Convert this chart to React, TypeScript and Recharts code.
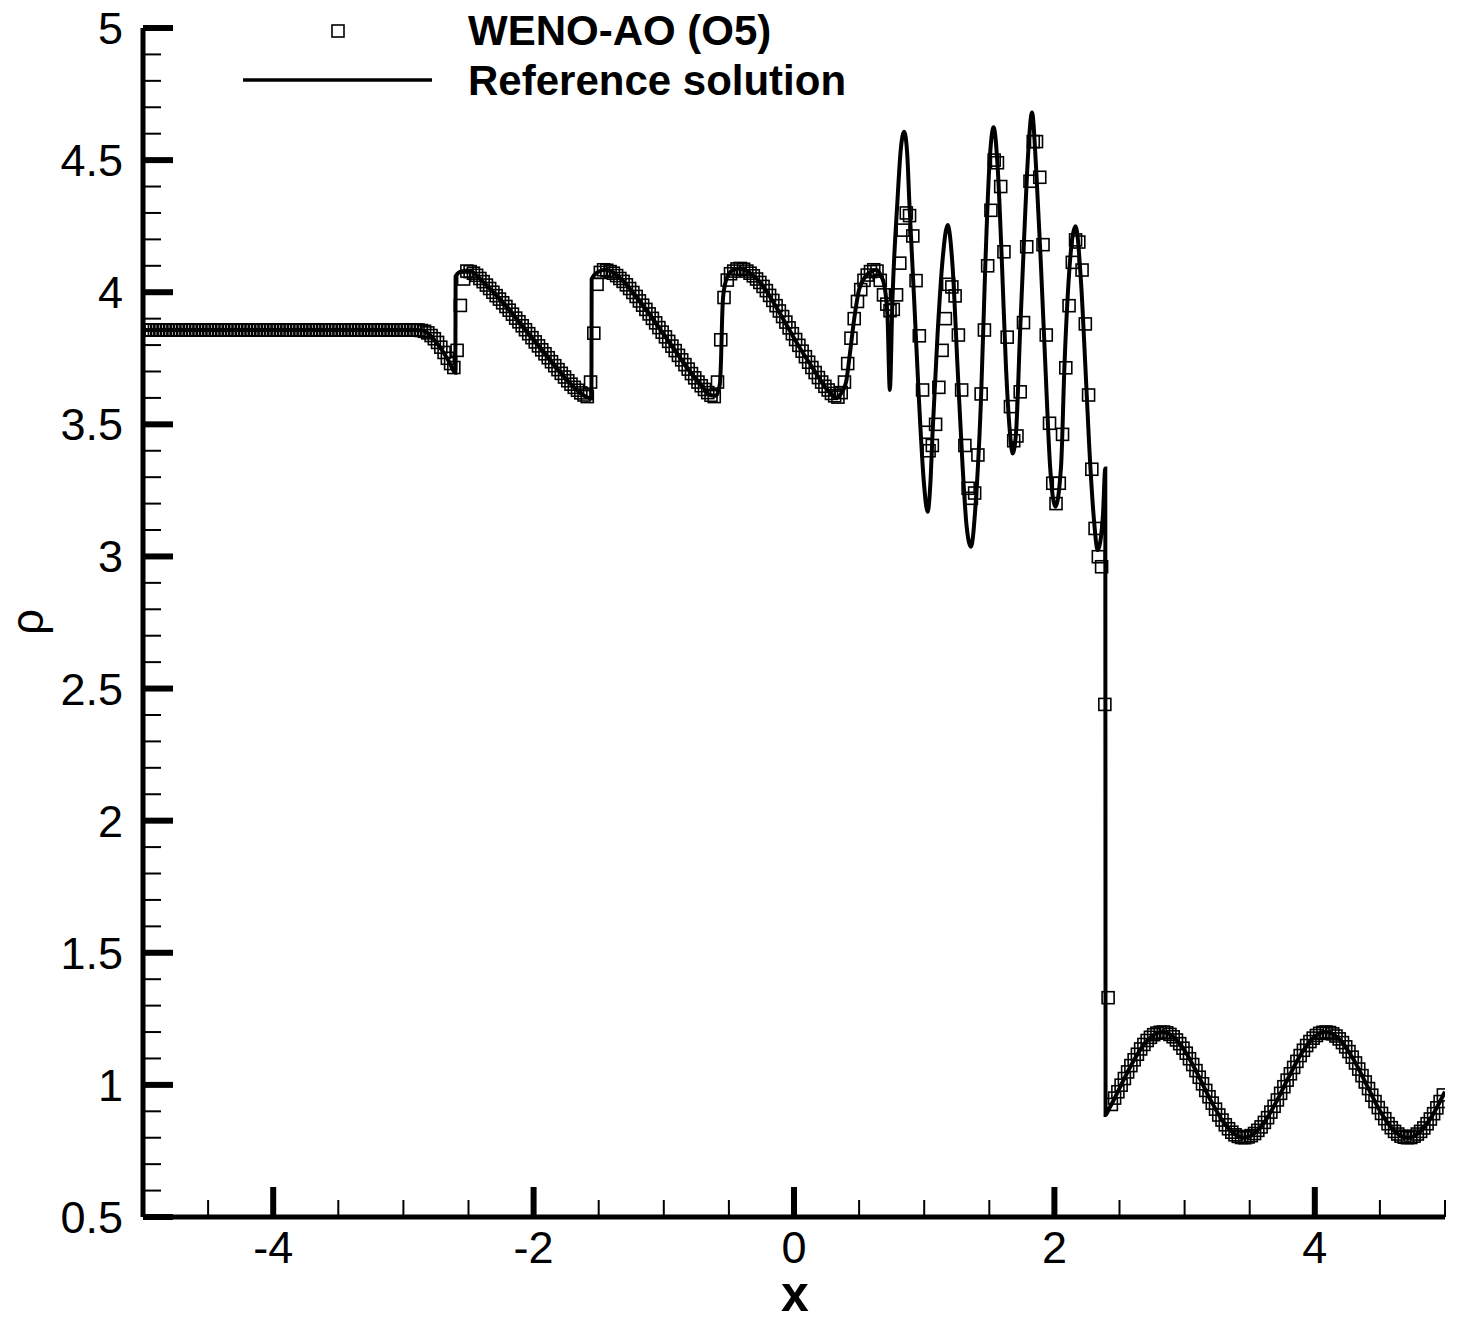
import React from "react";
import { ComposedChart, Line, Scatter, XAxis, YAxis } from "recharts";

// WENO-AO (O5) cell averages, 400 cells on [-5, 5]
const wenoRho = [
  3.857, 3.857, 3.857, 3.857, 3.857, 3.857, 3.857, 3.857, 3.857, 3.857,
  3.857, 3.857, 3.857, 3.857, 3.857, 3.857, 3.857, 3.857, 3.857, 3.857,
  3.857, 3.857, 3.857, 3.857, 3.857, 3.857, 3.857, 3.857, 3.857, 3.857,
  3.857, 3.857, 3.857, 3.857, 3.857, 3.857, 3.857, 3.857, 3.857, 3.857,
  3.857, 3.857, 3.857, 3.857, 3.857, 3.857, 3.857, 3.857, 3.857, 3.857,
  3.857, 3.857, 3.857, 3.857, 3.857, 3.857, 3.857, 3.857, 3.857, 3.857,
  3.857, 3.857, 3.857, 3.857, 3.857, 3.857, 3.857, 3.857, 3.857, 3.857,
  3.857, 3.857, 3.857, 3.857, 3.857, 3.857, 3.857, 3.857, 3.857, 3.857,
  3.857, 3.857, 3.857, 3.857, 3.857, 3.855, 3.852, 3.846, 3.836, 3.824,
  3.81, 3.792, 3.772, 3.75, 3.73, 3.715, 3.78, 3.95, 4.05, 4.08,
  4.078, 4.072, 4.064, 4.052, 4.04, 4.027, 4.014, 4.0, 3.987, 3.974,
  3.96, 3.946, 3.932, 3.917, 3.902, 3.888, 3.873, 3.858, 3.843, 3.828,
  3.812, 3.797, 3.782, 3.767, 3.752, 3.737, 3.722, 3.707, 3.693, 3.679,
  3.665, 3.652, 3.64, 3.629, 3.619, 3.611, 3.605, 3.66, 3.845, 4.03,
  4.075, 4.085, 4.083, 4.078, 4.072, 4.063, 4.052, 4.041, 4.028, 4.014,
  3.999, 3.984, 3.967, 3.951, 3.935, 3.918, 3.901, 3.884, 3.866, 3.849,
  3.831, 3.814, 3.796, 3.779, 3.761, 3.744, 3.726, 3.709, 3.692, 3.676,
  3.66, 3.646, 3.632, 3.62, 3.61, 3.605, 3.66, 3.82, 3.98, 4.046,
  4.07, 4.08, 4.088, 4.09, 4.087, 4.08, 4.072, 4.062, 4.05, 4.037,
  4.022, 4.006, 3.988, 3.969, 3.949, 3.929, 3.908, 3.887, 3.865, 3.843,
  3.821, 3.799, 3.777, 3.756, 3.735, 3.715, 3.696, 3.677, 3.66, 3.644,
  3.63, 3.617, 3.608, 3.603, 3.62, 3.66, 3.73, 3.826, 3.9, 3.965,
  4.01, 4.045, 4.065, 4.078, 4.085, 4.08, 4.045, 3.99, 3.955, 3.93,
  3.935, 3.99, 4.11, 4.235, 4.3, 4.29, 4.213, 4.044, 3.835, 3.63,
  3.47, 3.4, 3.42, 3.5, 3.64, 3.78, 3.9, 4.03, 4.02, 3.986,
  3.838, 3.63, 3.42, 3.258, 3.22, 3.24, 3.384, 3.615, 3.857, 4.1,
  4.31, 4.5, 4.49, 4.4, 4.153, 3.83, 3.567, 3.438, 3.456, 3.623,
  3.885, 4.172, 4.42, 4.57, 4.57, 4.435, 4.18, 3.838, 3.504, 3.277,
  3.2, 3.277, 3.462, 3.714, 3.949, 4.113, 4.198, 4.19, 4.084, 3.88,
  3.611, 3.33, 3.106, 2.999, 2.961, 2.44, 1.33, 0.926, 0.95, 0.974,
  0.999, 1.024, 1.049, 1.073, 1.095, 1.116, 1.136, 1.153, 1.168, 1.18,
  1.19, 1.196, 1.199, 1.2, 1.197, 1.191, 1.182, 1.17, 1.156, 1.139,
  1.12, 1.099, 1.077, 1.054, 1.029, 1.004, 0.979, 0.955, 0.931, 0.908,
  0.886, 0.867, 0.849, 0.834, 0.821, 0.811, 0.805, 0.801, 0.8, 0.803,
  0.808, 0.816, 0.828, 0.841, 0.858, 0.876, 0.897, 0.919, 0.943, 0.968,
  0.993, 1.018, 1.042, 1.066, 1.089, 1.111, 1.131, 1.149, 1.164, 1.177,
  1.187, 1.195, 1.199, 1.2, 1.198, 1.193, 1.185, 1.174, 1.16, 1.144,
  1.126, 1.105, 1.083, 1.06, 1.035, 1.011, 0.986, 0.961, 0.937, 0.914,
  0.892, 0.872, 0.853, 0.838, 0.824, 0.814, 0.806, 0.802, 0.8, 0.801,
  0.806, 0.814, 0.824, 0.837, 0.853, 0.871, 0.891, 0.913, 0.937, 0.962,
];

// reference solution, sampled by hand along the curve
const refX = [
  -5, -2.9, -2.85, -2.8, -2.75, -2.7, -2.65, -2.601, -2.599, -2.56,
  -2.5, -2.45, -2.4, -2.3, -2.2, -2.1, -2.0, -1.9, -1.8, -1.7,
  -1.6, -1.556, -1.554, -1.51, -1.45, -1.4, -1.3, -1.2, -1.1, -1.0,
  -0.9, -0.8, -0.7, -0.65, -0.6, -0.57, -0.56, -0.552, -0.545, -0.525,
  -0.5, -0.45, -0.42, -0.35, -0.25, -0.15, -0.05, 0.05, 0.15, 0.25,
  0.3, 0.32, 0.36, 0.4, 0.43, 0.46, 0.5, 0.55, 0.6, 0.63,
  0.67, 0.692, 0.718, 0.736, 0.756, 0.795, 0.82, 0.846, 0.87, 0.885,
  0.923, 0.96, 0.998, 1.026, 1.05, 1.064, 1.103, 1.141, 1.18, 1.218,
  1.256, 1.295, 1.326, 1.359, 1.397, 1.436, 1.469, 1.5, 1.533, 1.564,
  1.598, 1.628, 1.659, 1.679, 1.705, 1.736, 1.769, 1.8, 1.828, 1.859,
  1.897, 1.931, 1.967, 2.008, 2.051, 2.077, 2.108, 2.162, 2.205, 2.238,
  2.269, 2.302, 2.333, 2.372, 2.391, 2.393, 2.42, 2.45, 2.5, 2.6,
  2.7, 2.8, 2.83, 2.9, 3.0, 3.1, 3.2, 3.3, 3.4, 3.456,
  3.5, 3.6, 3.7, 3.8, 3.9, 4.0, 4.084, 4.2, 4.3, 4.4,
  4.5, 4.6, 4.712, 4.8, 4.9, 5.0,
];
const refRho = [
  3.857, 3.857, 3.855, 3.84, 3.812, 3.778, 3.738, 3.695, 4.06, 4.078,
  4.082, 4.07, 4.045, 3.995, 3.94, 3.88, 3.82, 3.76, 3.7, 3.645,
  3.605, 3.598, 4.05, 4.075, 4.085, 4.078, 4.035, 3.975, 3.91, 3.84,
  3.77, 3.7, 3.64, 3.612, 3.608, 3.65, 3.75, 3.9, 3.98, 4.04,
  4.07, 4.087, 4.09, 4.077, 4.03, 3.955, 3.87, 3.785, 3.708, 3.635,
  3.608, 3.6, 3.615, 3.66, 3.77, 3.89, 4.01, 4.06, 4.08, 4.085,
  4.06, 4.03, 3.91, 3.63, 3.97, 4.35, 4.54, 4.607, 4.52, 4.35,
  3.97, 3.59, 3.277, 3.169, 3.3, 3.466, 3.844, 4.122, 4.254, 4.097,
  3.718, 3.34, 3.113, 3.037, 3.213, 3.592, 4.097, 4.475, 4.624, 4.475,
  4.097, 3.718, 3.466, 3.39, 3.466, 3.844, 4.223, 4.538, 4.68, 4.475,
  4.097, 3.718, 3.34, 3.188, 3.34, 3.718, 4.034, 4.25, 4.034, 3.718,
  3.403, 3.15, 3.024, 3.15, 3.333, 0.886, 0.91, 0.937, 0.987, 1.084,
  1.161, 1.198, 1.2, 1.187, 1.13, 1.041, 0.942, 0.858, 0.808, 0.8,
  0.805, 0.85, 0.932, 1.03, 1.121, 1.183, 1.2, 1.167, 1.094, 0.998,
  0.902, 0.831, 0.8, 0.819, 0.882, 0.974,
];

const xTicks = [-5, -4.5, -4, -3.5, -3, -2.5, -2, -1.5, -1, -0.5, 0, 0.5, 1, 1.5, 2, 2.5, 3, 3.5, 4, 4.5, 5];
const yTicks = [
  0.5, 0.6, 0.7, 0.8, 0.9, 1, 1.1, 1.2, 1.3, 1.4, 1.5, 1.6, 1.7, 1.8, 1.9,
  2, 2.1, 2.2, 2.3, 2.4, 2.5, 2.6, 2.7, 2.8, 2.9, 3, 3.1, 3.2, 3.3, 3.4,
  3.5, 3.6, 3.7, 3.8, 3.9, 4, 4.1, 4.2, 4.3, 4.4, 4.5, 4.6, 4.7, 4.8, 4.9, 5,
];

const FONT = "'Liberation Sans', Arial, Helvetica, sans-serif";

const wenoData = wenoRho.map((y, i) => ({ x: -4.9875 + 0.025 * i, y }));
const refData = refX.map((x, i) => ({ x, y: refRho[i] }));

function YTick(props: any) {
  const { x, y, payload } = props;
  const v = payload.value;
  const major = Math.abs(v * 2 - Math.round(v * 2)) < 1e-6;
  return (
    <g>
      <line x1={x} x2={x + (major ? 30 : 18)} y1={y} y2={y} stroke="#000" strokeWidth={major ? 6 : 2} />
      {major && (
        <text x={x - 20} y={y + 16} textAnchor="end" fontSize={45} fontFamily={FONT} fill="#000">
          {String(v)}
        </text>
      )}
    </g>
  );
}

function XTick(props: any) {
  const { x, y, payload } = props;
  const v = payload.value;
  const major = Math.abs(v / 2 - Math.round(v / 2)) < 1e-6 && Math.abs(v) < 5;
  return (
    <g>
      <line x1={x} x2={x} y1={y} y2={y - (major ? 30 : 17)} stroke="#000" strokeWidth={major ? 6 : 2} />
      {major && (
        <text x={x} y={y + 46} textAnchor="middle" fontSize={45} fontFamily={FONT} fill="#000">
          {String(v)}
        </text>
      )}
    </g>
  );
}

function Square(props: any) {
  const { cx, cy } = props;
  return <rect x={cx - 6} y={cy - 6} width={12} height={12} fill="none" stroke="#000" strokeWidth={1.6} />;
}

export default function App() {
  return (
    <div style={{ position: "absolute", left: 0, top: 0, width: 1462, height: 1321, background: "#fff" }}>
      <ComposedChart width={1462} height={1321} margin={{ top: 28, right: 17, bottom: 0, left: 0 }}>
        <XAxis
          type="number"
          dataKey="x"
          domain={[-5, 5]}
          ticks={xTicks}
          interval={0}
          allowDataOverflow
          height={104}
          tickSize={0}
          tickMargin={0}
          tickLine={false}
          axisLine={{ stroke: "#000", strokeWidth: 5 }}
          tick={XTick}
        />
        <YAxis
          type="number"
          dataKey="y"
          domain={[0.5, 5]}
          ticks={yTicks}
          interval={0}
          allowDataOverflow
          width={143}
          tickSize={0}
          tickMargin={0}
          tickLine={false}
          axisLine={{ stroke: "#000", strokeWidth: 5 }}
          tick={YTick}
        />
        <Line
          data={refData}
          dataKey="y"
          type="monotone"
          stroke="#000"
          strokeWidth={4}
          dot={false}
          isAnimationActive={false}
        />
        <Scatter data={wenoData} dataKey="y" shape={Square} isAnimationActive={false} />
      </ComposedChart>

      <svg width={1462} height={1321} style={{ position: "absolute", left: 0, top: 0, pointerEvents: "none" }}>
        <rect x={332} y={25} width={12} height={12} fill="none" stroke="#000" strokeWidth={1.6} />
        <text x={468} y={45} fontSize={42} fontWeight="bold" fontFamily={FONT} fill="#000">
          WENO-AO (O5)
        </text>
        <line x1={243} x2={432} y1={80} y2={80} stroke="#000" strokeWidth={3.5} />
        <text x={468} y={95} fontSize={42} fontWeight="bold" fontFamily={FONT} fill="#000">
          Reference solution
        </text>
        <text x={795} y={1311} textAnchor="middle" fontSize={50} fontWeight="bold" fontFamily={FONT} fill="#000">
          x
        </text>
        <text
          transform="translate(43, 622) rotate(-90)"
          textAnchor="middle"
          fontSize={46}
          fontFamily={FONT}
          fill="#000"
        >
          ρ
        </text>
      </svg>
    </div>
  );
}
